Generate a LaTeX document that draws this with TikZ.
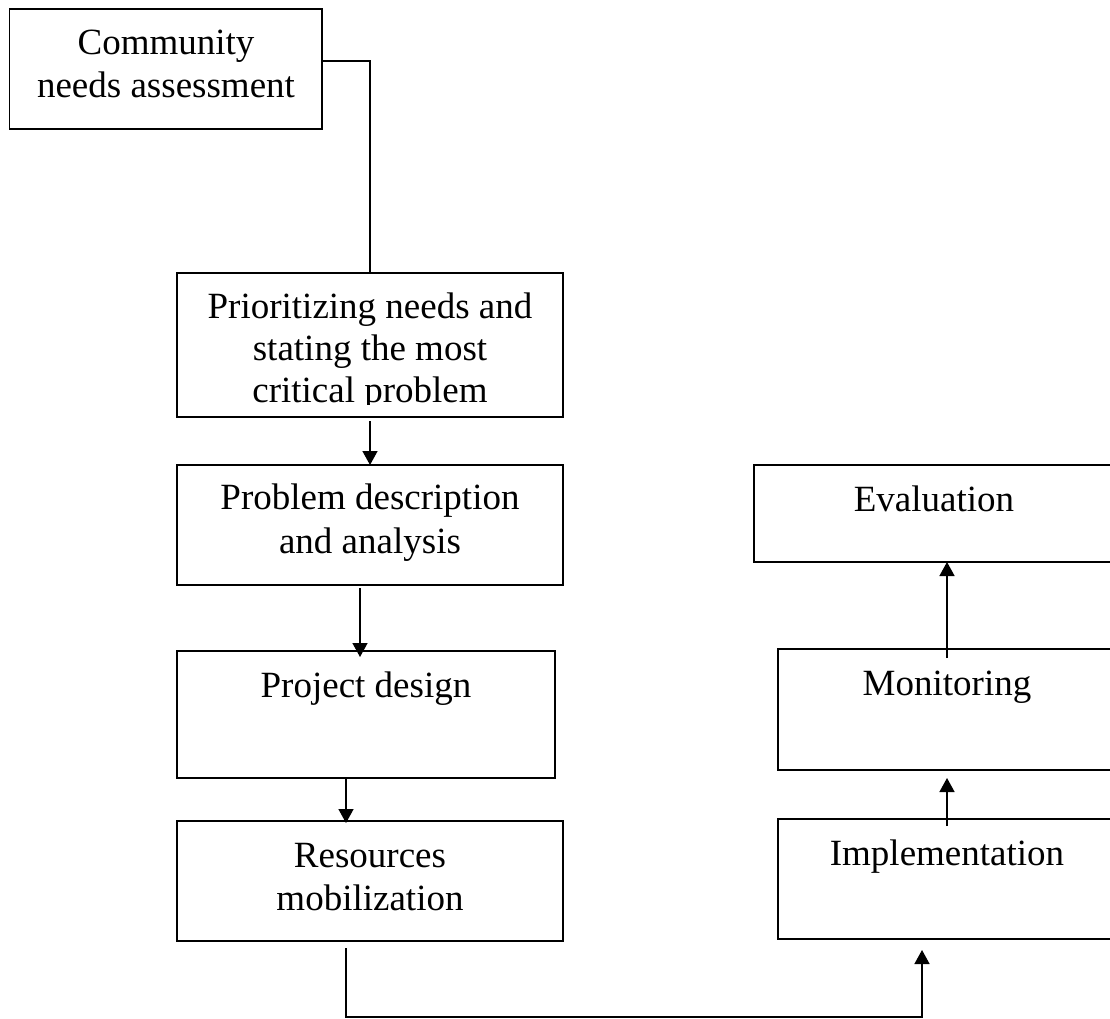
\documentclass[tikz,border=0pt]{standalone}
\usepackage{fontspec}
\setmainfont{Liberation Serif}
\usetikzlibrary{arrows.meta}
\begin{document}
\begin{tikzpicture}[x=1pt,y=-1pt,
  box/.style={draw, line width=1.5pt, rectangle, inner sep=0pt, outer sep=0pt},
  txt/.style={inner sep=0pt, outer sep=0pt, anchor=base, font=\fontsize{37}{42.6}\selectfont},
  link/.style={line width=1.5pt},
  arr/.style={line width=1.5pt, -{Triangle[length=14pt,width=15pt]}}]
\useasboundingbox (0,0) rectangle (1110,1019);
\clip (0,0) rectangle (1110,1019);
% boxes
\node[box, minimum width=312.5pt, minimum height=120pt] (b1) at (165.75,69) {};
\node[box, minimum width=386pt, minimum height=144pt] (b2) at (370,345) {};
\node[box, minimum width=386pt, minimum height=120pt] (b3) at (370,525) {};
\node[box, minimum width=378pt, minimum height=127pt] (b4) at (366,714.5) {};
\node[box, minimum width=386pt, minimum height=120pt] (b5) at (370,881) {};
\node[box, minimum width=360pt, minimum height=97pt] (ev) at (934,513.5) {};
\node[box, minimum width=338pt, minimum height=121pt] (mo) at (947,709.5) {};
\node[box, minimum width=338pt, minimum height=120pt] (im) at (947,879) {};
% texts
\node[txt] (t1a) at (166,55) {Community};
\node[txt] (t1b) at (166,98) {needs assessment};
\begin{scope}
\clip (177,273) rectangle (563,404);
\node[txt] (t2a) at (370,318) {Prioritizing needs and};
\node[txt] (t2b) at (370,360) {stating the most};
\node[txt] (t2c) at (370,402) {critical problem};
\end{scope}
\node[txt] (t3a) at (370,509) {Problem description};
\node[txt] (t3b) at (370,553) {and analysis};
\node[txt] (t4a) at (366,697) {Project design};
\node[txt] (t5a) at (370,867) {Resources};
\node[txt] (t5b) at (370,910) {mobilization};
\node[txt] (tev) at (934,511) {Evaluation};
\node[txt] (tmo) at (947,695) {Monitoring};
\node[txt] (tim) at (947,865) {Implementation};
% connectors
\coordinate (k1) at (370,61);
\draw[link] (b1.east |- k1) -- (k1) -- (b2.north);
\draw[arr] ([yshift=-4pt]b2.south) -- (b3.north);
\draw[arr] ([xshift=-10pt,yshift=-3pt]b3.south) -- ([xshift=-6pt,yshift=-6pt]b4.north);
\draw[arr] ([xshift=-20pt]b4.south) -- ([xshift=-24pt,yshift=-2pt]b5.north);
\coordinate (k2) at (346,1017);
\coordinate (k3) at (922,1017);
\draw[arr] ([xshift=-24pt,yshift=-7pt]b5.south) -- (k2) -- (k3) -- ([xshift=-25pt,yshift=-11pt]im.south);
\draw[arr] ([yshift=-7pt]im.north) -- ([yshift=-8pt]mo.south);
\draw[arr] ([yshift=-9pt]mo.north) -- ([xshift=13pt]ev.south);
\end{tikzpicture}
\end{document}
